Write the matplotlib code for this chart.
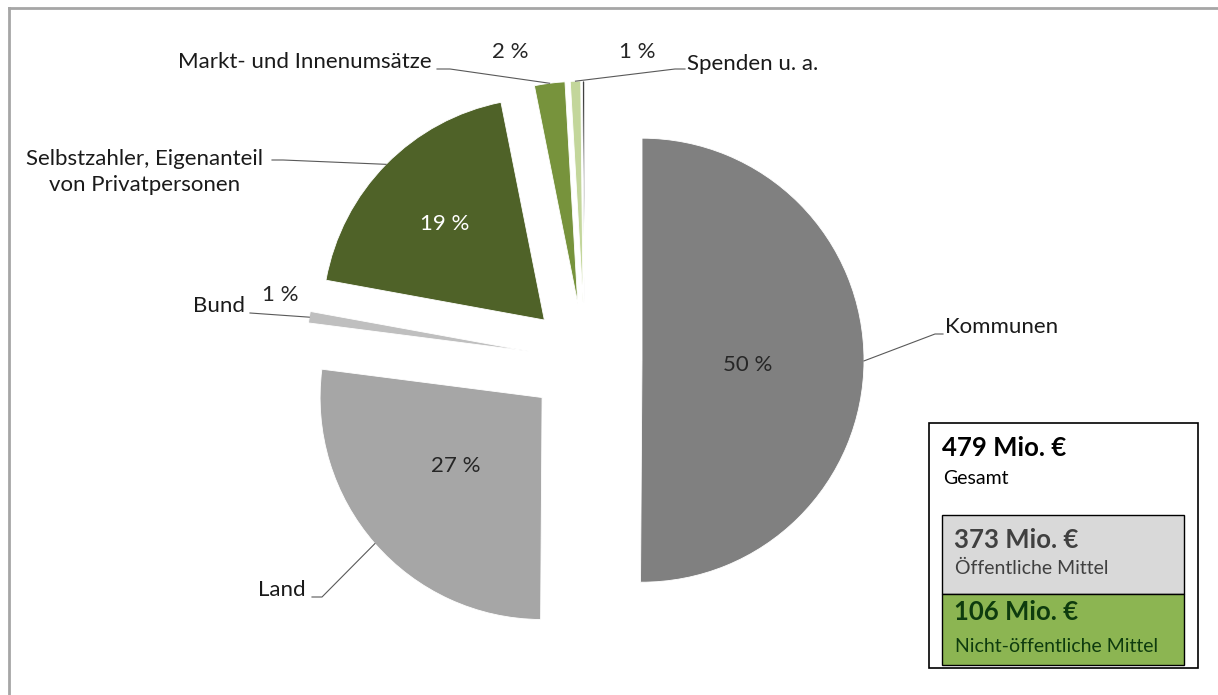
import numpy as np
import matplotlib
matplotlib.use("Agg")
import matplotlib.pyplot as plt
from matplotlib.patches import Rectangle

plt.rcParams['font.family'] = ['Lato', 'DejaVu Sans']

# Finanzierung in Mio. Euro
categories = ['Kommunen', 'Land', 'Bund', 'Selbstzahler, Eigenanteil\nvon Privatpersonen',
              'Markt- und Innenumsätze', 'Spenden u. a.', '']
values = [240, 129, 4, 91, 10.6, 3.6, 0.8]
colors = ['#808080', '#A6A6A6', '#BFBFBF', '#4F6228', '#77933C', '#C3D69B', '#404040']

total_label = '479 Mio. €'
public_label = '373 Mio. €'
private_label = '106 Mio. €'

H = 695  # pixel height, for converting top-down positions


def py(y):
    return H - y


fig = plt.figure(figsize=(12.18, 6.95), dpi=100)
ax = fig.add_axes([0, 0, 1, 1])

wedges, _ = ax.pie(values, colors=colors, startangle=90, counterclock=False,
                   radius=222, center=(585, py(360)), explode=[57] * len(values),
                   wedgeprops=dict(linewidth=0.6, edgecolor='white'))
ax.set_xlim(0, 1218)
ax.set_ylim(0, H)
ax.set_aspect('equal')
ax.axis('off')

total = sum(values)
FS = 16

# percent labels: (x, y, colour)
pct_pos = [(748, 365, '#262626'), (456, 466, '#262626'), (280, 295, '#262626'),
           (445, 224, 'white'), (510, 52, '#262626'), (637, 52, '#262626')]
for v, (x, y, c) in zip(values, pct_pos):
    ax.text(x, py(y), f'{v / total * 100:.0f} %', color=c, fontsize=FS,
            ha='center', va='center')


# leader lines from the outer edge of each wedge
def anchor(w):
    mid = np.deg2rad((w.theta1 + w.theta2) / 2)
    cx, cy = w.center
    return cx + w.r * np.cos(mid), cy + w.r * np.sin(mid)


label_layout = [
    ((945, 327), 'left', [(935, 334), (943, 334)]),
    ((306, 590), 'right', [(322, 597), (312, 597)]),
    ((245, 306), 'right', [(250, 313)]),
    ((145, 172), 'center', [(283, 160), (272, 160)]),
    ((432, 62), 'right', [(450, 69), (437, 69)]),
    ((687, 64), 'left', [(675, 69), (685, 69)]),
]
for w, name, ((tx, ty), ha, elbow) in zip(wedges, categories, label_layout):
    ax0, ay0 = anchor(w)
    xs = [ax0] + [p[0] for p in elbow]
    ys = [ay0] + [py(p[1]) for p in elbow]
    ax.plot(xs, ys, color='#595959', lw=0.8)
    ax.text(tx, py(ty), name, ha=ha, va='center', fontsize=FS,
            color='#1a1a1a', linespacing=1.35, multialignment='center')

# summary box
ax.add_patch(Rectangle((929, py(668)), 269, 245, facecolor='white',
                       edgecolor='black', lw=1.2))
ax.add_patch(Rectangle((942, py(594)), 242, 79, facecolor='#D9D9D9',
                       edgecolor='black', lw=1.0))
ax.add_patch(Rectangle((942, py(665)), 242, 71, facecolor='#8CB552',
                       edgecolor='black', lw=1.0))
ax.text(942, py(448), total_label, fontsize=18.5, fontweight='bold', color='black', va='center')
ax.text(943, py(478), 'Gesamt', fontsize=14, color='black', va='center')
ax.text(954, py(540), public_label, fontsize=18.5, fontweight='bold', color='#404040', va='center')
ax.text(955, py(568), 'Öffentliche Mittel', fontsize=14, color='#404040', va='center')
ax.text(954, py(612), private_label, fontsize=18.5, fontweight='bold', color='#0E3B0E', va='center')
ax.text(955, py(646), 'Nicht-öffentliche Mittel', fontsize=14, color='#0E3B0E', va='center')

# chart frame (top and left edge)
ax.plot([9, 1218], [py(8), py(8)], color='#A6A6A6', lw=2, clip_on=False)
ax.plot([9, 9], [py(8), 0], color='#A6A6A6', lw=2, clip_on=False)

fig.savefig('out.png', dpi=100)
